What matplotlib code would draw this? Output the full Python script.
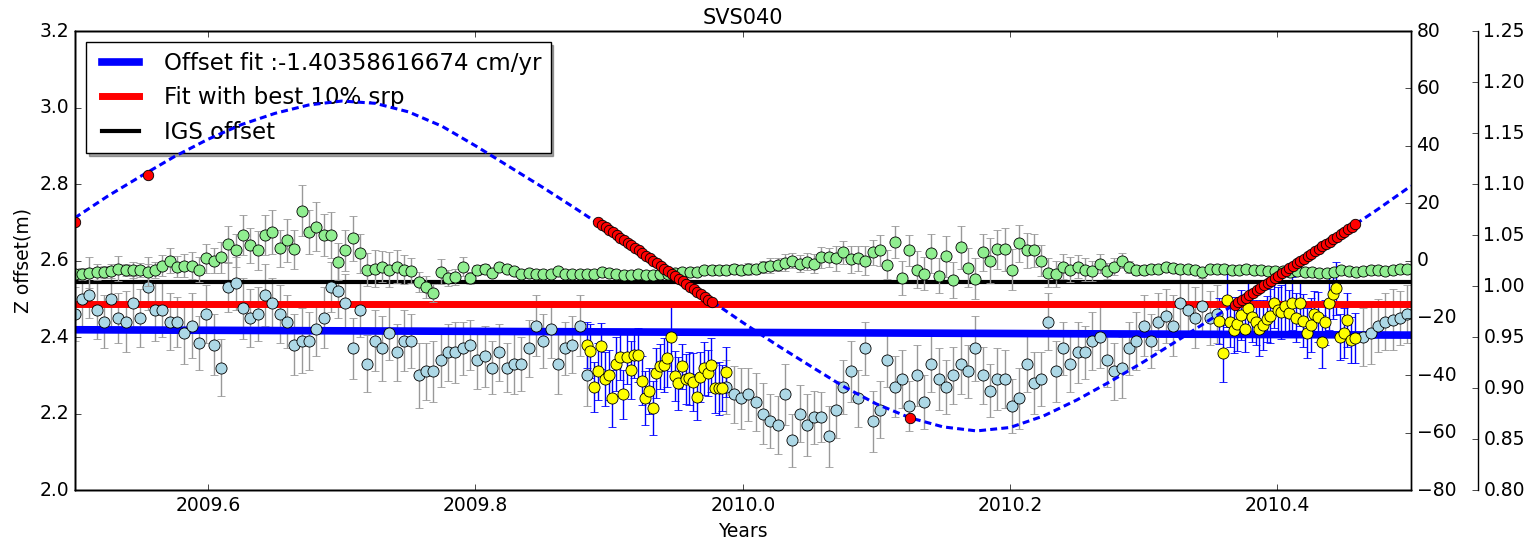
import matplotlib.pyplot as plt
import numpy as np

plt.style.use('classic')
plt.rcParams['xtick.labelsize'] = 13.5
plt.rcParams['ytick.labelsize'] = 13.5
plt.rcParams['axes.labelsize'] = 13.5
plt.rcParams['savefig.facecolor'] = 'white'

nan = np.nan

# Z offset solutions, one every 2 days from 2009.5 (nan where the best srp days are)
z_years = 2009.5 + 2.0 / 365.0 * np.arange(183)
z_offset = [2.46, 2.50, 2.51, 2.47, 2.44, 2.50, 2.45, 2.44, 2.49, 2.45,
            2.53, 2.47, 2.47, 2.44, 2.44, 2.41, 2.43, 2.385, 2.46, 2.38,
            2.32, 2.53, 2.54, 2.475, 2.45, 2.46, 2.51, 2.49, 2.46, 2.44,
            2.38, 2.39, 2.39, 2.42, 2.45, 2.53, 2.52, 2.49, 2.37, 2.47,
            2.33, 2.39, 2.37, 2.41, 2.36, 2.39, 2.39, 2.30, 2.31, 2.31,
            2.34, 2.36, 2.36, 2.37, 2.38, 2.34, 2.35, 2.32, 2.36, 2.32,
            2.33, 2.33, 2.37, 2.43, 2.39, 2.42, 2.33, 2.37, 2.38, 2.43,
            2.30, nan, nan, nan, nan, nan, nan, nan, nan, nan,
            nan, nan, nan, nan, nan, nan, nan, nan, nan, 2.27,
            2.25, 2.24, 2.25, 2.23, 2.20, 2.18, 2.17, 2.25, 2.13, 2.20,
            2.17, 2.19, 2.19, 2.14, 2.21, 2.27, 2.31, 2.24, 2.37, 2.18,
            2.21, 2.34, 2.27, 2.29, 2.22, 2.30, 2.23, 2.33, 2.29, 2.27,
            2.30, 2.33, 2.31, 2.37, 2.30, 2.26, 2.29, 2.29, 2.22, 2.24,
            2.33, 2.28, 2.29, 2.44, 2.31, 2.37, 2.33, 2.36, 2.36, 2.39,
            2.40, 2.34, 2.31, 2.32, 2.37, 2.39, 2.43, 2.39, 2.44, 2.455,
            2.43, 2.49, 2.47, 2.45, 2.48, 2.45, 2.46, nan, nan, nan,
            nan, nan, nan, nan, nan, nan, nan, nan, nan, nan,
            nan, nan, nan, nan, nan, nan, 2.40, 2.41, 2.43, 2.44,
            2.445, 2.45, 2.46]
z_err = [0.07, 0.08, 0.06, 0.075, 0.07, 0.085, 0.065, 0.08, 0.07, 0.075,
         0.06, 0.08, 0.07, 0.075, 0.065, 0.08, 0.085, 0.07, 0.075, 0.08,
         0.075, 0.065, 0.07, 0.08, 0.075, 0.07, 0.08, 0.065, 0.075, 0.07,
         0.08, 0.085, 0.075, 0.07, 0.08, 0.065, 0.07, 0.075, 0.08, 0.07,
         0.075, 0.08, 0.085, 0.07, 0.075, 0.08, 0.07, 0.085, 0.075, 0.08,
         0.07, 0.075, 0.08, 0.07, 0.065, 0.075, 0.08, 0.07, 0.075, 0.065,
         0.08, 0.07, 0.075, 0.08, 0.07, 0.075, 0.08, 0.07, 0.075, 0.08,
         0.08, nan, nan, nan, nan, nan, nan, nan, nan, nan,
         nan, nan, nan, nan, nan, nan, nan, nan, nan, 0.07,
         0.075, 0.08, 0.07, 0.075, 0.08, 0.07, 0.075, 0.08, 0.07, 0.075,
         0.08, 0.07, 0.065, 0.08, 0.075, 0.07, 0.08, 0.075, 0.07, 0.08,
         0.075, 0.07, 0.08, 0.075, 0.065, 0.08, 0.07, 0.075, 0.08, 0.07,
         0.075, 0.08, 0.07, 0.085, 0.075, 0.07, 0.08, 0.075, 0.07, 0.08,
         0.075, 0.08, 0.07, 0.075, 0.08, 0.07, 0.075, 0.08, 0.07, 0.075,
         0.08, 0.07, 0.075, 0.08, 0.07, 0.075, 0.08, 0.07, 0.075, 0.07,
         0.08, 0.075, 0.07, 0.08, 0.075, 0.07, 0.075, nan, nan, nan,
         nan, nan, nan, nan, nan, nan, nan, nan, nan, nan,
         nan, nan, nan, nan, nan, nan, 0.075, 0.08, 0.07, 0.075,
         0.08, 0.07, 0.075]

# ratio series on the third axis, same 2-day grid
ratio = [1.012, 1.012, 1.013, 1.014, 1.014, 1.015, 1.017, 1.016, 1.016, 1.016,
         1.014, 1.016, 1.020, 1.025, 1.019, 1.020, 1.020, 1.016, 1.027, 1.025,
         1.028, 1.041, 1.035, 1.050, 1.040, 1.035, 1.050, 1.053, 1.037, 1.045,
         1.036, 1.074, 1.053, 1.058, 1.050, 1.050, 1.024, 1.035, 1.047, 1.032,
         1.016, 1.017, 1.019, 1.016, 1.019, 1.016, 1.015, 1.004, 0.999, 0.993,
         1.014, 1.008, 1.009, 1.019, 1.008, 1.016, 1.017, 1.013, 1.019, 1.017,
         1.015, 1.012, 1.013, 1.012, 1.012, 1.012, 1.015, 1.012, 1.012, 1.012,
         1.012, 1.012, 1.014, 1.013, 1.012, 1.011, 1.011, 1.012, 1.011, 1.011,
         1.012, 1.012, 1.013, 1.014, 1.014, 1.014, 1.016, 1.016, 1.016, 1.016,
         1.017, 1.016, 1.017, 1.017, 1.019, 1.020, 1.021, 1.023, 1.025, 1.022,
         1.024, 1.022, 1.028, 1.028, 1.027, 1.033, 1.026, 1.027, 1.025, 1.033,
         1.035, 1.021, 1.043, 1.008, 1.035, 1.016, 1.012, 1.032, 1.010, 1.029,
         1.006, 1.038, 1.018, 1.007, 1.033, 1.025, 1.036, 1.036, 1.016, 1.042,
         1.035, 1.035, 1.025, 1.013, 1.012, 1.019, 1.016, 1.019, 1.016, 1.015,
         1.022, 1.015, 1.019, 1.025, 1.019, 1.016, 1.016, 1.017, 1.017, 1.019,
         1.018, 1.017, 1.017, 1.016, 1.014, 1.017, 1.017, 1.017, 1.016, 1.016,
         1.017, 1.016, 1.016, 1.015, 1.015, 1.015, 1.014, 1.015, 1.014, 1.014,
         1.013, 1.013, 1.014, 1.016, 1.015, 1.014, 1.015, 1.016, 1.016, 1.015,
         1.016, 1.017, 1.017]
ratio_err = [0.005, 0.006, 0.015, 0.008, 0.006, 0.007, 0.012, 0.006, 0.008, 0.007,
             0.014, 0.008, 0.010, 0.012, 0.010, 0.011, 0.013, 0.012, 0.014, 0.012,
             0.015, 0.018, 0.016, 0.020, 0.017, 0.019, 0.020, 0.022, 0.018, 0.021,
             0.019, 0.025, 0.022, 0.024, 0.021, 0.023, 0.018, 0.020, 0.022, 0.019,
             0.016, 0.018, 0.015, 0.017, 0.016, 0.014, 0.012, 0.010, 0.011, 0.009,
             0.012, 0.008, 0.008, 0.009, 0.006, 0.005, 0.005, 0.004, 0.004, 0.003,
             0.004, 0.003, 0.003, 0.004, 0.003, 0.003, 0.003, 0.004, 0.003, 0.003,
             0.003, 0.003, 0.003, 0.003, 0.003, 0.003, 0.003, 0.003, 0.003, 0.003,
             0.003, 0.004, 0.003, 0.004, 0.004, 0.004, 0.004, 0.005, 0.004, 0.005,
             0.005, 0.005, 0.006, 0.005, 0.006, 0.007, 0.006, 0.008, 0.007, 0.008,
             0.008, 0.009, 0.010, 0.009, 0.012, 0.011, 0.013, 0.012, 0.014, 0.012,
             0.015, 0.014, 0.016, 0.017, 0.015, 0.018, 0.016, 0.019, 0.017, 0.020,
             0.018, 0.021, 0.019, 0.020, 0.018, 0.022, 0.019, 0.021, 0.020, 0.018,
             0.017, 0.016, 0.015, 0.014, 0.013, 0.012, 0.012, 0.011, 0.011, 0.010,
             0.009, 0.008, 0.008, 0.007, 0.006, 0.005, 0.005, 0.004, 0.004, 0.004,
             0.004, 0.004, 0.004, 0.004, 0.003, 0.004, 0.004, 0.004, 0.003, 0.004,
             0.004, 0.004, 0.004, 0.004, 0.003, 0.004, 0.004, 0.004, 0.003, 0.004,
             0.004, 0.004, 0.003, 0.004, 0.004, 0.004, 0.003, 0.004, 0.004, 0.004,
             0.004, 0.004, 0.003]

# best srp days, daily
best1_start = 2009.8833
best1_z = [2.38, 2.364, 2.27, 2.31, 2.377, 2.29, 2.30, 2.24, 2.33, 2.347,
           2.25, 2.347, 2.314, 2.353, 2.353, 2.286, 2.24, 2.26, 2.214, 2.305,
           2.323, 2.327, 2.344, 2.40, 2.298, 2.279, 2.323, 2.29, 2.292, 2.282,
           2.244, 2.296, 2.318, 2.305, 2.327, 2.266, 2.266, 2.266, 2.308]
best1_err = [0.06, 0.07, 0.065, 0.075, 0.06, 0.07, 0.065, 0.075, 0.07, 0.06,
             0.065, 0.07, 0.075, 0.06, 0.07, 0.065, 0.07, 0.06, 0.07, 0.065,
             0.06, 0.07, 0.075, 0.09, 0.065, 0.07, 0.06, 0.065, 0.07, 0.075,
             0.06, 0.065, 0.07, 0.06, 0.07, 0.065, 0.07, 0.06, 0.065]
best2_start = 2010.3565
best2_z = [2.443, 2.357, 2.497, 2.44, 2.418, 2.434, 2.458, 2.42, 2.475, 2.453,
           2.438, 2.42, 2.431, 2.446, 2.455, 2.488, 2.47, 2.466, 2.48, 2.464,
           2.488, 2.451, 2.488, 2.443, 2.411, 2.431, 2.46, 2.453, 2.388, 2.438,
           2.488, 2.512, 2.527, 2.401, 2.411, 2.445, 2.392, 2.397]
best2_err = [0.06, 0.075, 0.07, 0.065, 0.06, 0.07, 0.065, 0.06, 0.07, 0.065,
             0.06, 0.07, 0.065, 0.06, 0.07, 0.065, 0.06, 0.07, 0.065, 0.06,
             0.07, 0.065, 0.06, 0.07, 0.065, 0.07, 0.06, 0.065, 0.07, 0.06,
             0.07, 0.065, 0.07, 0.06, 0.065, 0.07, 0.06, 0.065]

# srp curve (right axis), every 0.025 yr
curve_years = 2009.5 + 0.025 * np.arange(41)
curve_srp = [14.8, 22.5, 29.5, 36.3, 42.3, 47.4, 51.3, 54.2, 55.6, 54.8,
             51.8, 46.8, 40.0, 32.8, 25.6, 18.1, 10.4, 2.4, -5.6, -13.6,
             -21.6, -29.3, -36.6, -43.8, -50.0, -54.8, -58.0, -59.4, -58.2, -54.2,
             -48.6, -42.2, -35.3, -28.0, -20.5, -13.3, -5.6, 2.2, 10.0, 17.8,
             26.0]

# srp values on the selected days
srp1_start = 2009.892
srp1 = [13.4, 12.5, 11.6, 10.7, 9.8, 8.9, 8.0, 7.1, 6.2, 5.3,
        4.4, 3.5, 2.6, 1.7, 0.8, -0.1, -1.0, -1.9, -2.8, -3.7,
        -4.6, -5.5, -6.4, -7.3, -8.2, -9.1, -10.0, -10.9, -11.8, -12.7,
        -13.6, -14.5]
srp2_start = 2010.368
srp2 = [-15.5, -14.6, -13.8, -12.9, -12.1, -11.2, -10.4, -9.5, -8.7, -7.8,
        -7.0, -6.1, -5.3, -4.4, -3.6, -2.7, -1.9, -1.0, -0.2, 0.7,
        1.5, 2.4, 3.2, 4.1, 4.9, 5.8, 6.6, 7.5, 8.3, 9.2,
        10.0, 10.9, 11.7, 12.6]
single_years = [2009.5, 2009.555, 2010.125]
single_srp = [13.6, 29.8, -55.0]

fit_years = [2009.5, 2010.5]
fit_z = [2.419, 2.405]
best_fit_z = [2.487, 2.487]
igs_z = [2.543, 2.543]

best1_years = best1_start + np.arange(len(best1_z)) / 365.0
best2_years = best2_start + np.arange(len(best2_z)) / 365.0
srp1_years = srp1_start + np.arange(len(srp1)) / 365.0
srp2_years = srp2_start + np.arange(len(srp2)) / 365.0

fig = plt.figure(figsize=(15.37, 5.48), dpi=100)
ax = fig.add_axes([0.0485, 0.1058, 0.8695, 0.8376])

ax.errorbar(z_years, z_offset, yerr=z_err, fmt='o', color='lightblue', ecolor='0.6',
            mec='k', mew=0.6, ms=8, capsize=3, elinewidth=1)
ax.errorbar(best1_years, best1_z, yerr=best1_err, fmt='o', color='yellow', ecolor='blue',
            mec='k', mew=0.6, ms=8, capsize=3, elinewidth=1)
ax.errorbar(best2_years, best2_z, yerr=best2_err, fmt='o', color='yellow', ecolor='blue',
            mec='k', mew=0.6, ms=8, capsize=3, elinewidth=1)

ax.plot(fit_years, fit_z, color='blue', lw=5.5, label='Offset fit :-1.40358616674 cm/yr')
ax.plot(fit_years, best_fit_z, color='red', lw=5, label='Fit with best 10% srp')
ax.plot(fit_years, igs_z, color='black', lw=3, label='IGS offset')

ax.set_xlim(2009.5, 2010.5)
ax.set_ylim(2.0, 3.2)
ax.set_xticks([2009.6, 2009.8, 2010.0, 2010.2, 2010.4])
ax.ticklabel_format(useOffset=False)
ax.set_xlabel('Years')
ax.set_ylabel('Z offset(m)')
ax.set_title('SVS040', fontsize=15)
ax.legend(loc='upper left', shadow=True, fontsize=16.5, handlelength=2.2)

# third axis with the ratio
ax3 = ax.twinx()
ax3.spines['right'].set_position(('axes', 1.05))
ax3.errorbar(z_years, ratio, yerr=ratio_err, fmt='o', color='lightgreen', ecolor='0.6',
             mec='k', mew=0.6, ms=8, capsize=3, elinewidth=1)
ax3.set_ylim(0.80, 1.25)
ax3.set_yticks(np.arange(0.80, 1.2501, 0.05))
ax3.set_xlim(2009.5, 2010.5)

# srp axis on top
ax2 = ax.twinx()
ax2.plot(curve_years, curve_srp, color='blue', lw=2.2, linestyle=(0, (5, 3)))
ax2.plot(srp1_years, srp1, 'o', color='red', mec='k', mew=0.6, ms=7.5)
ax2.plot(srp2_years, srp2, 'o', color='red', mec='k', mew=0.6, ms=7.5)
ax2.plot(single_years, single_srp, 'o', color='red', mec='k', mew=0.6, ms=7.5)
ax2.set_ylim(-80, 80)
ax2.set_yticks(np.arange(-80, 81, 20))
ax2.set_xlim(2009.5, 2010.5)

fig.savefig('out.png', dpi=100)
